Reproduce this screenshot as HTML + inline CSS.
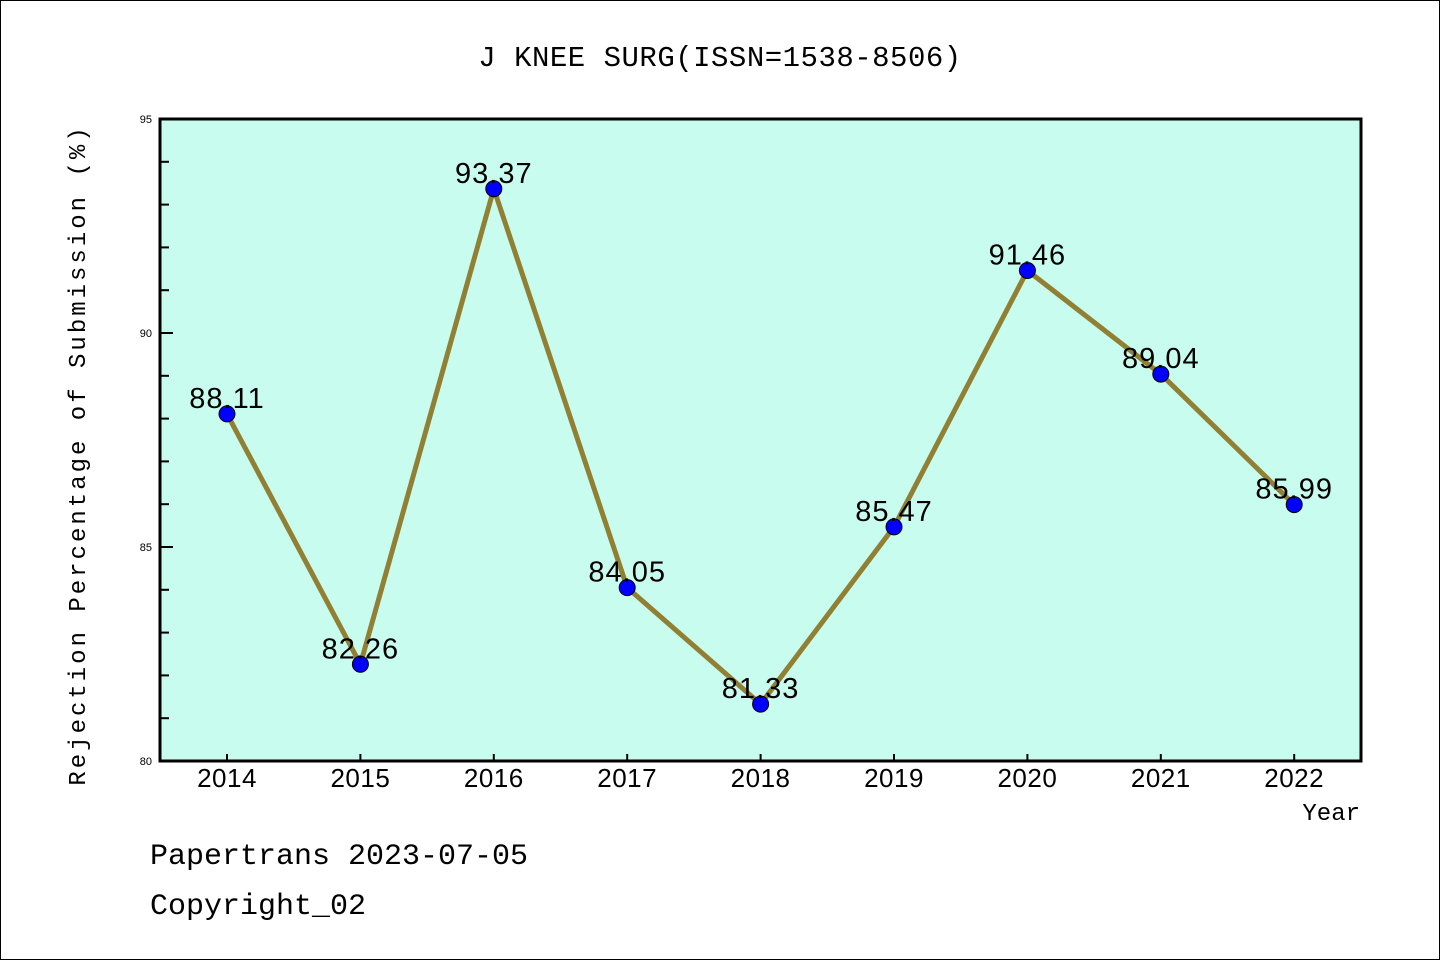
<!DOCTYPE html>
<html><head><meta charset="utf-8"><style>
html,body{margin:0;padding:0;background:#fff}
svg{display:block}
</style></head><body>
<svg width="1440" height="960" xmlns="http://www.w3.org/2000/svg">
<rect x="0.5" y="0.5" width="1439" height="959" fill="#fff" stroke="#000"/>
<text x="720" y="66" text-anchor="middle" font-family="Liberation Mono, monospace" font-size="29" letter-spacing="0.5">J KNEE SURG(ISSN=1538-8506)</text>
<rect x="160" y="119" width="1201" height="642" fill="#c8fcee"/>
<g id="axes"></g>
<g id="marks"></g>
<rect x="160" y="119" width="1201" height="642" fill="none" stroke="#000" stroke-width="3"/>
<text transform="translate(85,455) rotate(-90)" text-anchor="middle" font-family="Liberation Mono, monospace" font-size="24" letter-spacing="3">Rejection Percentage of Submission (%)</text>
<text x="1360" y="820" text-anchor="end" font-family="Liberation Mono, monospace" font-size="24">Year</text>
<text x="150" y="864" font-family="Liberation Mono, monospace" font-size="30">Papertrans 2023-07-05</text>
<text x="150" y="914" font-family="Liberation Mono, monospace" font-size="30">Copyright_02</text>
</svg>
<script>
const years = ["2014","2015","2016","2017","2018","2019","2020","2021","2022"];
const values = [88.11,82.26,93.37,84.05,81.33,85.47,91.46,89.04,85.99];
const yTicks = [80,85,90,95];
const NS="http://www.w3.org/2000/svg";
const x0=227,dx=133.4;
function xs(i){return x0+i*dx;}
function ys(v){return 761-(v-80)*42.8;}
function mk(t,a,p){const e=document.createElementNS(NS,t);for(const k in a)e.setAttribute(k,a[k]);p.appendChild(e);return e;}
const ax=document.getElementById('axes'),mg=document.getElementById('marks');
for(let v=80;v<=95;v++){
  const major=v%5===0;
  const t=mk('line',{x1:160,x2:160+(major?13:9),y1:ys(v),y2:ys(v),stroke:'#000','stroke-width':2},ax);
  
  
}
yTicks.forEach(v=>{
  const t=mk('text',{x:152,y:ys(v)+4,'text-anchor':'end','font-family':'Liberation Sans, sans-serif','font-size':11},ax);
  t.textContent=v;
  
  
});
years.forEach((y,i)=>{
  const l=mk('line',{x1:xs(i),x2:xs(i),y1:761,y2:754,stroke:'#000','stroke-width':2},ax);
  
  
  const t=mk('text',{x:xs(i),y:787,'text-anchor':'middle','font-family':'Liberation Sans, sans-serif','font-size':26,'letter-spacing':0.5},ax);
  t.textContent=y;
  
  
});
const pl=mk('polyline',{points:values.map((v,i)=>xs(i)+','+ys(v)).join(' '),fill:'none',stroke:'#918033','stroke-width':5,'stroke-linejoin':'round'},mg);


values.forEach((v,i)=>{
  const c=mk('circle',{cx:xs(i),cy:ys(v),r:8,fill:'#0000ff',stroke:'#000','stroke-width':1},mg);
  
  
  const t=mk('text',{x:xs(i),y:ys(v)-6,'text-anchor':'middle','font-family':'Liberation Sans, sans-serif','font-size':29,'letter-spacing':1},mg);
  t.textContent=v.toFixed(2);
  
  
});
</script>
</body></html>
